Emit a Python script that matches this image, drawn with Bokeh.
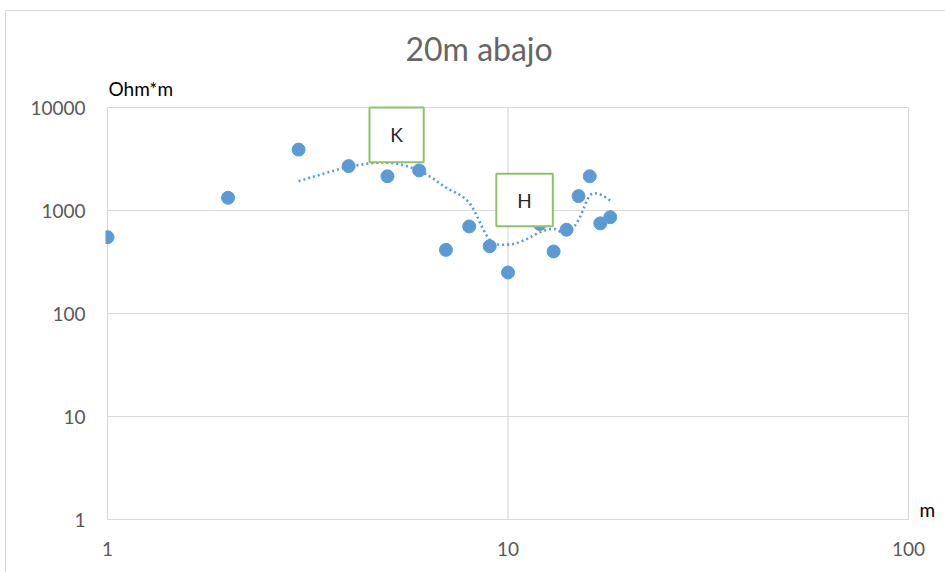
import numpy as np
from bokeh.plotting import figure
from bokeh.models import (Range1d, FixedTicker, NumeralTickFormatter, BoxAnnotation,
                          Label, ColumnDataSource)
from bokeh.embed import file_html
from bokeh.resources import INLINE

# Apparent resistivity sounding, "20m abajo"
spacing_m = [1, 2, 3, 4, 5, 6, 7, 8, 9, 10, 11, 12, 13, 14, 15, 16, 17, 18]
resistivity_ohm_m = [550, 1330, 3900, 2700, 2150, 2450, 415, 700, 450, 250,
                     850, 740, 400, 650, 1380, 2150, 750, 860]

x_ticks = [1, 10, 100]
y_ticks = [1, 10, 100, 1000, 10000]

# Layer-type annotation boxes (data units): left, right, bottom, top
K_BOX = (4.51, 6.16, 2944, 10000)
H_BOX = (9.35, 12.94, 704, 2271)

BLUE = "#5B9BD5"
GRID = "#D9D9D9"
GREEN = "#8CC46A"
FONT = "Lato"

# pixel size of one decade on each axis, used to leave room around the grid
X_DECADE_PX = 400.5
Y_DECADE_PX = 103.0

# 3-point moving average, placed at the last x of each window
period = 3
ma_x = spacing_m[period - 1:]
ma_y = [sum(resistivity_ohm_m[i - period + 1:i + 1]) / period
        for i in range(period - 1, len(resistivity_ohm_m))]


def smooth(xs, ys, n=24):
    """Catmull-Rom curve through the points, computed in log-log space."""
    lx, ly = np.log10(xs), np.log10(ys)
    px = np.concatenate([[2 * lx[0] - lx[1]], lx, [2 * lx[-1] - lx[-2]]])
    py = np.concatenate([[2 * ly[0] - ly[1]], ly, [2 * ly[-1] - ly[-2]]])
    outx, outy = [], []
    t = np.linspace(0, 1, n, endpoint=False)
    for i in range(1, len(px) - 2):
        for arr, out in ((px, outx), (py, outy)):
            p0, p1, p2, p3 = arr[i - 1], arr[i], arr[i + 1], arr[i + 2]
            out.extend(0.5 * ((2 * p1) + (-p0 + p2) * t
                              + (2 * p0 - 5 * p1 + 4 * p2 - p3) * t ** 2
                              + (-p0 + 3 * p1 - 3 * p2 + p3) * t ** 3))
    outx.append(lx[-1])
    outy.append(ly[-1])
    return 10 ** np.array(outx), 10 ** np.array(outy)


# ranges leave a little room beyond the gridded area for the unit captions
x_lo = x_ticks[0] * 10 ** (-2 / X_DECADE_PX)
x_hi = x_ticks[-1] * 10 ** (35 / X_DECADE_PX)
y_lo = y_ticks[0] * 10 ** (-2 / Y_DECADE_PX)
y_hi = y_ticks[-1] * 10 ** (29 / Y_DECADE_PX)

p = figure(width=940, height=562, x_axis_type="log", y_axis_type="log",
           x_range=Range1d(x_lo, x_hi), y_range=Range1d(y_lo, y_hi),
           output_backend="svg", toolbar_location=None,
           min_border_left=99, min_border_right=3,
           min_border_top=67, min_border_bottom=52,
           margin=(10, 0, 0, 5),
           styles={"border-top": f"1px solid {GRID}", "border-left": f"1px solid {GRID}"})

p.outline_line_color = None
p.background_fill_color = "white"
p.border_fill_color = "white"
p.grid.visible = False

p.title.text = "20m abajo"
p.title.align = "left"
p.title.offset = 300
p.title.standoff = 22
p.title.text_font = FONT
p.title.text_font_size = "32px"
p.title.text_font_style = "normal"
p.title.text_color = "#666666"

for ax, ticks in ((p.xaxis, x_ticks), (p.yaxis, y_ticks)):
    ax.ticker = FixedTicker(ticks=ticks)
    ax.formatter = NumeralTickFormatter(format="0")
    ax.axis_line_color = None
    ax.major_tick_line_color = None
    ax.minor_tick_line_color = None
    ax.major_tick_out = 0
    ax.major_tick_in = 0
    ax.minor_tick_out = 0
    ax.major_label_text_font = FONT
    ax.major_label_text_font_size = "19px"
    ax.major_label_text_color = "#595959"
p.xaxis.major_label_standoff = 20
p.yaxis.major_label_standoff = 20

# gridlines bounded to the tick extent
p.segment(x0=[x_ticks[0]] * len(y_ticks), x1=[x_ticks[-1]] * len(y_ticks),
          y0=y_ticks, y1=y_ticks, line_color=GRID, line_width=1.2)
p.segment(x0=x_ticks, x1=x_ticks, y0=[y_ticks[0]] * len(x_ticks),
          y1=[y_ticks[-1]] * len(x_ticks), line_color=GRID, line_width=1.2)

# moving-average trendline
tx, ty = smooth(ma_x, ma_y)
p.line(tx, ty, line_color=BLUE, line_width=2.6, line_dash="2 3")

src = ColumnDataSource(data=dict(x=spacing_m, y=resistivity_ohm_m))
p.scatter("x", "y", source=src, size=13, fill_color=BLUE, line_color=BLUE)

for (l, r, b, t), letter in ((K_BOX, "K"), (H_BOX, "H")):
    p.add_layout(BoxAnnotation(left=l, right=r, bottom=b, top=t,
                               fill_color="white", fill_alpha=1.0,
                               line_color=GREEN, line_width=2, line_alpha=1.0))
    p.add_layout(Label(x=float(np.sqrt(l * r)), y=float(np.sqrt(b * t)), text=letter,
                       text_align="center", text_baseline="middle",
                       text_font=FONT, text_font_size="19px", text_color="#262626"))

# axis unit captions
p.add_layout(Label(x=x_ticks[0], y=y_ticks[-1], x_offset=1, y_offset=19, text="Ohm*m",
                   text_baseline="middle", text_font=FONT, text_font_size="19px",
                   text_color="#000000"))
p.add_layout(Label(x=x_ticks[-1], y=y_ticks[0], x_offset=11, y_offset=10, text="m",
                   text_baseline="middle", text_font=FONT, text_font_size="19px",
                   text_color="#000000"))

open("out.html", "w").write(file_html(p, INLINE))
